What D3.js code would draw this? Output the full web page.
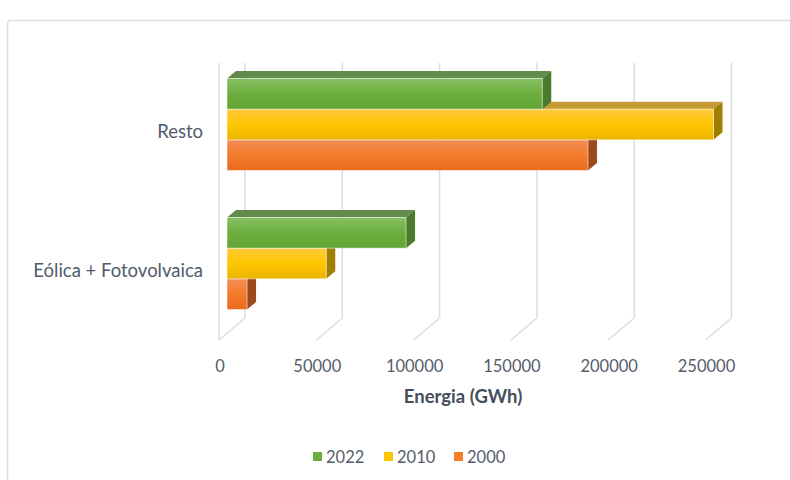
<!DOCTYPE html>
<html><head><meta charset="utf-8">
<script src="https://cdn.jsdelivr.net/npm/d3@7"></script>
<style>body{margin:0;background:#fff}svg{display:block}</style>
</head><body><svg id="c" width="790" height="480"></svg>
<script>
const categories = ["Resto", "Eólica + Fotovolvaica"];
const series = ["2022", "2010", "2000"];
const values2022 = [162000, 92000];
const values2010 = [250000, 51000];
const values2000 = [185500, 10300];
const tickValues = [0, 50000, 100000, 150000, 200000, 250000];
const axisTitle = "Energia (GWh)";

const colors = {
  "2022": {top:"#86bf63", mid:"#6cae3e", bot:"#63a535", cap:"#628a4c", side:"#4a7a2c"},
  "2010": {top:"#ffca3c", mid:"#ffc600", bot:"#eab400", cap:"#c49a32", side:"#a07f00"},
  "2000": {top:"#f28d55", mid:"#f47c2b", bot:"#e96b1d", cap:"#a45a2c", side:"#9c4a1b"}
};
const dataBySeries = {"2022": values2022, "2010": values2010, "2000": values2000};

const svg = d3.select("#c");
const font = "Lato, 'Liberation Sans', sans-serif";

svg.append("rect").attr("x",7.5).attr("y",20.5).attr("width",820).attr("height",520)
  .attr("rx",3).attr("fill","#fff").attr("stroke","#d9dde4").attr("stroke-width",1.5);

const x = d3.scaleLinear().domain([0,250000]).range([219,705.5]);
const y = d3.scaleBand().domain(categories).range([62,340]);
const inner = d3.scaleBand().domain(series).range([-46,46]);
const backDx = 26, backDy = -22;
const barDx = 8, barDy = -7;
const depthX = 9, depthY = -7.5;

const defs = svg.append("defs");
series.forEach(s => {
  const g = defs.append("linearGradient").attr("id","g"+s).attr("x1",0).attr("y1",0).attr("x2",0).attr("y2",1);
  g.append("stop").attr("offset","0%").attr("stop-color",colors[s].top);
  g.append("stop").attr("offset","50%").attr("stop-color",colors[s].mid);
  g.append("stop").attr("offset","100%").attr("stop-color",colors[s].bot);
});

const grid = svg.append("g").attr("stroke","#dadde6").attr("stroke-width",1.5).attr("fill","none");
const wallTop = 63, wallBottom = 318;
grid.append("line").attr("x1",x(0)).attr("x2",x(0)).attr("y1",wallTop).attr("y2",340);
tickValues.forEach(v => {
  grid.append("line").attr("x1",x(v)+backDx).attr("x2",x(v)+backDx).attr("y1",wallTop).attr("y2",wallBottom);
  grid.append("line").attr("x1",x(v)+backDx).attr("x2",x(v)).attr("y1",wallBottom).attr("y2",340);
});

// bars: draw lower series first so the upper bars cover their caps
const bars = svg.append("g");
categories.forEach(c => {
  const cy = y(c) + y.bandwidth()/2;
  series.slice().reverse().forEach(s => {
    const v = dataBySeries[s][categories.indexOf(c)];
    const x0 = x(0) + barDx, x1 = x(v) + barDx;
    const y0 = cy + inner(s) + barDy, h = inner.bandwidth();
    const g = bars.append("g");
    g.append("path").attr("d", `M${x0},${y0} L${x0+depthX},${y0+depthY} L${x1+depthX},${y0+depthY} L${x1},${y0} Z`)
      .attr("fill", colors[s].cap);
    g.append("path").attr("d", `M${x1},${y0} L${x1+depthX},${y0+depthY} L${x1+depthX},${y0+h+depthY} L${x1},${y0+h} Z`)
      .attr("fill", colors[s].side);
    g.append("rect").attr("x",x0).attr("y",y0).attr("width",x1-x0).attr("height",h)
      .attr("fill","url(#g"+s+")").attr("stroke","rgba(255,255,255,0.5)").attr("stroke-width",1);
  });
});

svg.append("g").selectAll("text").data(categories).join("text")
  .attr("x",203).attr("y",d=>y(d)+y.bandwidth()/2).attr("dy","0.35em")
  .attr("text-anchor","end").attr("font-family",font).attr("font-size",18.5)
  .attr("fill","#4f5b6b").text(d=>d);

svg.append("g").selectAll("text").data(tickValues).join("text")
  .attr("x",d=>x(d)+1).attr("y",366).attr("dy","0.35em").attr("text-anchor","middle")
  .attr("font-family",font).attr("font-size",16.5).attr("fill","#555c6b").text(d=>d);

svg.append("text").attr("x",463).attr("y",397).attr("dy","0.35em").attr("text-anchor","middle")
  .attr("font-family",font).attr("font-size",18.5).attr("font-weight","bold").attr("fill","#454e5c").text(axisTitle);

const legX = [313, 384, 454];
const leg = svg.append("g");
series.forEach((s,i) => {
  leg.append("rect").attr("x",legX[i]).attr("y",452).attr("width",9).attr("height",9).attr("fill",colors[s].mid);
  leg.append("text").attr("x",legX[i]+13).attr("y",457).attr("dy","0.35em")
    .attr("font-family",font).attr("font-size",16.5).attr("fill","#555c6b").text(s);
});
</script></body></html>
